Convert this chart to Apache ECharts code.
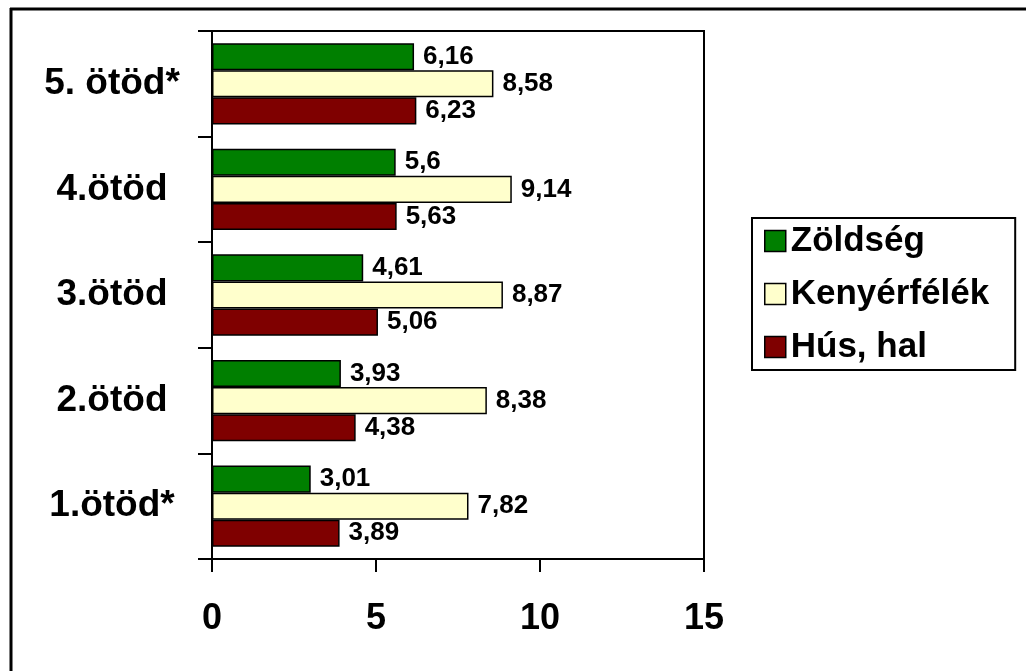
<!DOCTYPE html>
<html>
<head>
<meta charset="utf-8">
<title>Ötödök szerinti fogyasztás</title>
<script src="https://cdn.jsdelivr.net/npm/echarts@6/dist/echarts.min.js"></script>
<style>
  html, body { margin: 0; padding: 0; background: #ffffff; }
  #chart { width: 1026px; height: 671px; }
</style>
</head>
<body>
<div id="chart"></div>
<script>
// Income quintiles, listed bottom to top on the category axis
const categories = ['1.ötöd*', '2.ötöd', '3.ötöd', '4.ötöd', '5. ötöd*'];

// Values per quintile
const zoldseg = [3.01, 3.93, 4.61, 5.6, 6.16];
const kenyerfelek = [7.82, 8.38, 8.87, 9.14, 8.58];
const husHal = [3.89, 4.38, 5.06, 5.63, 6.23];

// Value axis ticks
const xTicks = [0, 5, 10, 15];

const FONT = "'Liberation Sans', Arial, sans-serif";

const chart = echarts.init(document.getElementById('chart'), null, { renderer: 'canvas' });

// Decimal comma, as in Hungarian notation
const commaFmt = p => String(p.value).replace('.', ',');

function barSeries(name, data, color) {
  return {
    name: name,
    type: 'bar',
    data: data,
    barGap: '0%',
    barCategoryGap: '23%',
    itemStyle: { color: color, borderColor: '#000000', borderWidth: 1.5 },
    label: {
      show: true,
      position: 'right',
      distance: 9,
      formatter: commaFmt,
      color: '#000000',
      fontFamily: FONT,
      fontWeight: 'bold',
      fontSize: 26
    }
  };
}

chart.setOption({
  animation: false,
  backgroundColor: '#ffffff',
  grid: {
    left: 212,
    top: 31,
    right: 322,
    bottom: 112,
    show: true,
    borderColor: '#000000',
    borderWidth: 2,
    backgroundColor: 'transparent'
  },
  xAxis: {
    type: 'value',
    min: xTicks[0],
    max: xTicks[xTicks.length - 1],
    interval: xTicks[1] - xTicks[0],
    splitLine: { show: false },
    axisLine: { show: true, lineStyle: { color: '#000000', width: 2 } },
    axisTick: { show: true, length: 13, lineStyle: { color: '#000000', width: 2 } },
    axisLabel: {
      margin: 42,
      color: '#000000',
      fontFamily: FONT,
      fontWeight: 'bold',
      fontSize: 36
    }
  },
  yAxis: {
    type: 'category',
    data: categories,
    axisLine: { show: true, lineStyle: { color: '#000000', width: 2 } },
    axisTick: { show: true, length: 14, lineStyle: { color: '#000000', width: 2 } },
    axisLabel: {
      margin: 100,
      align: 'center',
      color: '#000000',
      fontFamily: FONT,
      fontWeight: 'bold',
      fontSize: 37
    }
  },
  legend: {
    orient: 'vertical',
    left: 752,
    top: 218,
    padding: [5, 26, 5, 12],
    itemGap: 17,
    itemWidth: 21,
    itemHeight: 21,
    icon: 'rect',
    borderColor: '#000000',
    borderWidth: 2,
    backgroundColor: '#ffffff',
    itemStyle: { borderColor: '#000000', borderWidth: 1.5 },
    textStyle: {
      color: '#000000',
      fontFamily: FONT,
      fontWeight: 'bold',
      fontSize: 35,
      lineHeight: 36
    },
    data: ['Zöldség', 'Kenyérfélék', 'Hús, hal']
  },
  graphic: [
    {
      type: 'line',
      shape: { x1: 10, y1: 9, x2: 1026, y2: 9 },
      style: { stroke: '#000000', lineWidth: 3 },
      silent: true
    },
    {
      type: 'line',
      shape: { x1: 11, y1: 8, x2: 11, y2: 671 },
      style: { stroke: '#000000', lineWidth: 3 },
      silent: true
    }
  ],
  series: [
    barSeries('Zöldség', zoldseg, '#007f00'),
    barSeries('Kenyérfélék', kenyerfelek, '#ffffcc'),
    barSeries('Hús, hal', husHal, '#7f0000')
  ]
});
</script>
</body>
</html>
